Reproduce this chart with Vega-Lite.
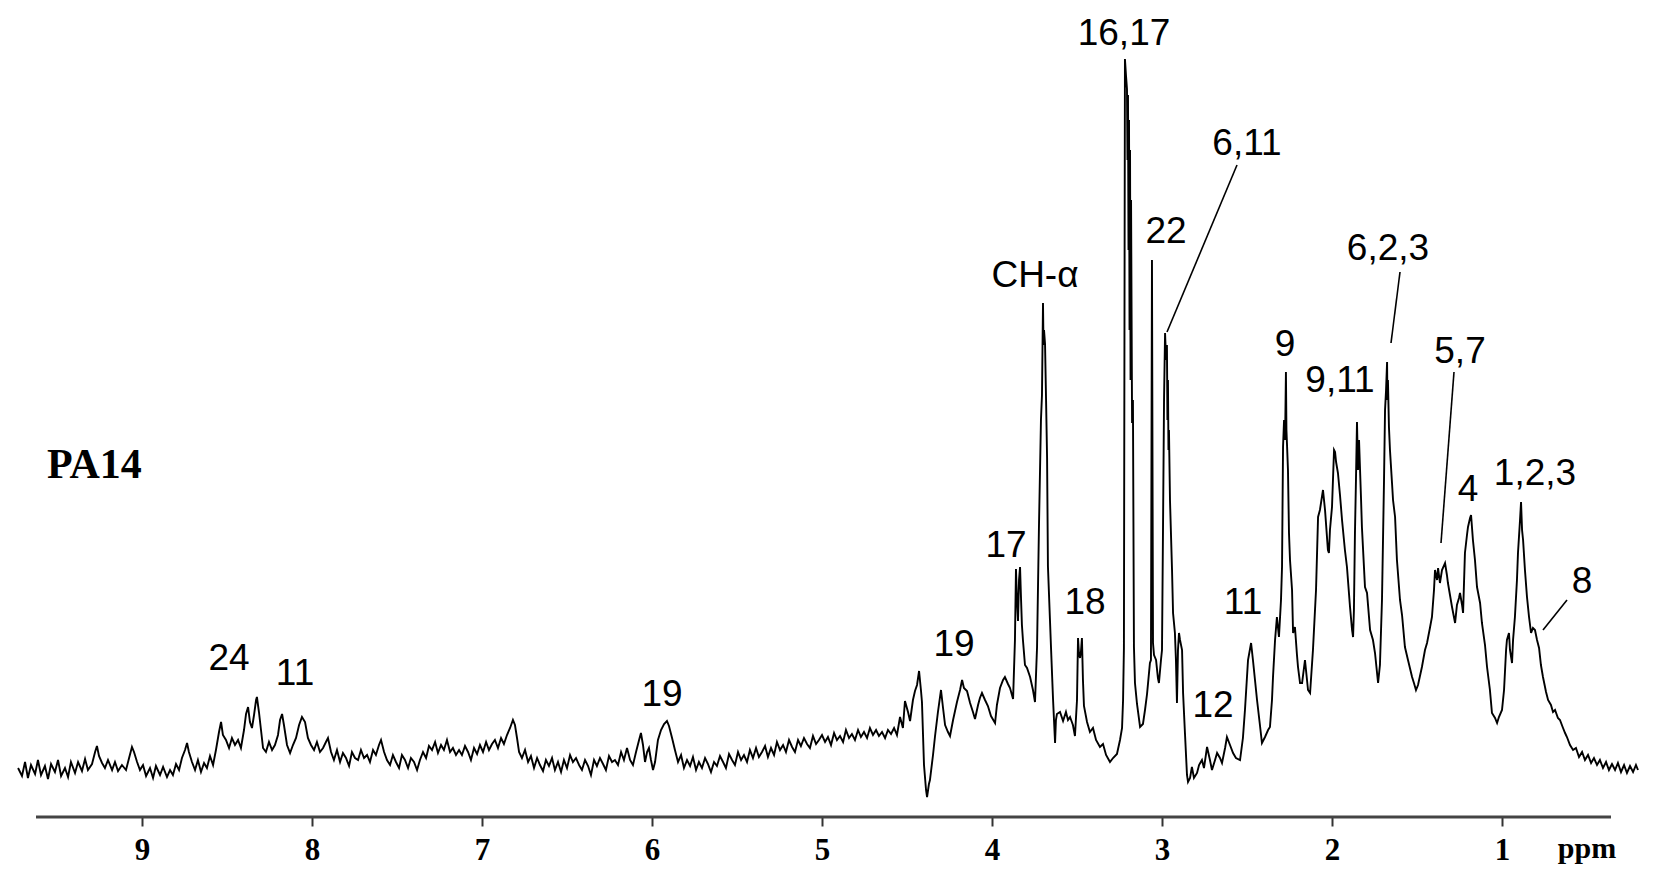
{
"$schema": "https://vega.github.io/schema/vega-lite/v6.json",
"width": 1634, "height": 817,
"autosize": {"type": "none"},
"padding": {"left": 10, "top": 0, "right": 10, "bottom": 67},
"background": "white",
"config": {"view": {"stroke": null}},
"datasets": {
"spectrum": [
{"ppm":9.729,"intensity":49},{"ppm":9.706,"intensity":41},{"ppm":9.688,"intensity":55},{"ppm":9.671,"intensity":39},{"ppm":9.653,"intensity":52},{"ppm":9.629,"intensity":43},{"ppm":9.612,"intensity":57},{"ppm":9.594,"intensity":42},{"ppm":9.571,"intensity":51},{"ppm":9.553,"intensity":38},{"ppm":9.535,"intensity":53},{"ppm":9.512,"intensity":45},{"ppm":9.494,"intensity":57},{"ppm":9.476,"intensity":41},{"ppm":9.453,"intensity":49},{"ppm":9.435,"intensity":40},{"ppm":9.418,"intensity":55},{"ppm":9.394,"intensity":44},{"ppm":9.376,"intensity":55},{"ppm":9.353,"intensity":46},{"ppm":9.335,"intensity":58},{"ppm":9.318,"intensity":47},{"ppm":9.294,"intensity":53},{"ppm":9.276,"intensity":65},{"ppm":9.265,"intensity":71},{"ppm":9.253,"intensity":61},{"ppm":9.235,"intensity":54},{"ppm":9.218,"intensity":49},{"ppm":9.2,"intensity":57},{"ppm":9.176,"intensity":47},{"ppm":9.159,"intensity":55},{"ppm":9.141,"intensity":46},{"ppm":9.118,"intensity":52},{"ppm":9.094,"intensity":47},{"ppm":9.076,"intensity":59},{"ppm":9.059,"intensity":70},{"ppm":9.047,"intensity":65},{"ppm":9.029,"intensity":55},{"ppm":9.012,"intensity":47},{"ppm":8.994,"intensity":52},{"ppm":8.976,"intensity":41},{"ppm":8.953,"intensity":49},{"ppm":8.935,"intensity":39},{"ppm":8.918,"intensity":51},{"ppm":8.894,"intensity":42},{"ppm":8.876,"intensity":50},{"ppm":8.853,"intensity":40},{"ppm":8.835,"intensity":47},{"ppm":8.818,"intensity":42},{"ppm":8.8,"intensity":53},{"ppm":8.782,"intensity":47},{"ppm":8.765,"intensity":59},{"ppm":8.747,"intensity":67},{"ppm":8.735,"intensity":74},{"ppm":8.724,"intensity":65},{"ppm":8.706,"intensity":55},{"ppm":8.688,"intensity":47},{"ppm":8.671,"intensity":57},{"ppm":8.653,"intensity":45},{"ppm":8.635,"intensity":54},{"ppm":8.618,"intensity":49},{"ppm":8.6,"intensity":61},{"ppm":8.582,"intensity":52},{"ppm":8.565,"intensity":67},{"ppm":8.547,"intensity":85},{"ppm":8.535,"intensity":95},{"ppm":8.524,"intensity":82},{"ppm":8.506,"intensity":77},{"ppm":8.488,"intensity":69},{"ppm":8.471,"intensity":79},{"ppm":8.453,"intensity":72},{"ppm":8.435,"intensity":77},{"ppm":8.418,"intensity":69},{"ppm":8.4,"intensity":87},{"ppm":8.388,"intensity":103},{"ppm":8.376,"intensity":110},{"ppm":8.365,"intensity":95},{"ppm":8.353,"intensity":89},{"ppm":8.341,"intensity":102},{"ppm":8.329,"intensity":117},{"ppm":8.324,"intensity":120},{"ppm":8.312,"intensity":105},{"ppm":8.3,"intensity":87},{"ppm":8.288,"intensity":69},{"ppm":8.271,"intensity":65},{"ppm":8.253,"intensity":75},{"ppm":8.235,"intensity":67},{"ppm":8.218,"intensity":72},{"ppm":8.2,"intensity":82},{"ppm":8.188,"intensity":97},{"ppm":8.176,"intensity":103},{"ppm":8.165,"intensity":92},{"ppm":8.147,"intensity":72},{"ppm":8.129,"intensity":64},{"ppm":8.112,"intensity":72},{"ppm":8.094,"intensity":79},{"ppm":8.076,"intensity":92},{"ppm":8.059,"intensity":100},{"ppm":8.041,"intensity":95},{"ppm":8.024,"intensity":79},{"ppm":8.006,"intensity":72},{"ppm":7.988,"intensity":67},{"ppm":7.971,"intensity":75},{"ppm":7.953,"intensity":65},{"ppm":7.935,"intensity":69},{"ppm":7.918,"intensity":75},{"ppm":7.906,"intensity":79},{"ppm":7.888,"intensity":65},{"ppm":7.871,"intensity":57},{"ppm":7.853,"intensity":67},{"ppm":7.835,"intensity":55},{"ppm":7.818,"intensity":64},{"ppm":7.8,"intensity":59},{"ppm":7.782,"intensity":51},{"ppm":7.765,"intensity":65},{"ppm":7.747,"intensity":59},{"ppm":7.729,"intensity":57},{"ppm":7.712,"intensity":67},{"ppm":7.694,"intensity":59},{"ppm":7.676,"intensity":62},{"ppm":7.659,"intensity":55},{"ppm":7.641,"intensity":67},{"ppm":7.624,"intensity":62},{"ppm":7.606,"intensity":72},{"ppm":7.594,"intensity":77},{"ppm":7.576,"intensity":65},{"ppm":7.559,"intensity":57},{"ppm":7.541,"intensity":52},{"ppm":7.524,"intensity":62},{"ppm":7.506,"intensity":55},{"ppm":7.488,"intensity":49},{"ppm":7.471,"intensity":62},{"ppm":7.453,"intensity":57},{"ppm":7.435,"intensity":49},{"ppm":7.418,"intensity":59},{"ppm":7.4,"intensity":55},{"ppm":7.382,"intensity":47},{"ppm":7.365,"intensity":57},{"ppm":7.347,"intensity":65},{"ppm":7.329,"intensity":59},{"ppm":7.312,"intensity":71},{"ppm":7.294,"intensity":67},{"ppm":7.276,"intensity":75},{"ppm":7.259,"intensity":64},{"ppm":7.241,"intensity":72},{"ppm":7.224,"intensity":67},{"ppm":7.206,"intensity":77},{"ppm":7.188,"intensity":65},{"ppm":7.171,"intensity":69},{"ppm":7.153,"intensity":62},{"ppm":7.135,"intensity":67},
{"ppm":7.118,"intensity":62},{"ppm":7.1,"intensity":71},{"ppm":7.082,"intensity":65},{"ppm":7.065,"intensity":57},{"ppm":7.047,"intensity":69},{"ppm":7.029,"intensity":63},{"ppm":7.012,"intensity":72},{"ppm":6.994,"intensity":65},{"ppm":6.976,"intensity":75},{"ppm":6.959,"intensity":67},{"ppm":6.941,"intensity":73},{"ppm":6.924,"intensity":77},{"ppm":6.906,"intensity":69},{"ppm":6.888,"intensity":79},{"ppm":6.871,"intensity":73},{"ppm":6.853,"intensity":82},{"ppm":6.835,"intensity":89},{"ppm":6.818,"intensity":97},{"ppm":6.806,"intensity":92},{"ppm":6.794,"intensity":79},{"ppm":6.782,"intensity":65},{"ppm":6.765,"intensity":59},{"ppm":6.747,"intensity":67},{"ppm":6.729,"intensity":55},{"ppm":6.712,"intensity":61},{"ppm":6.694,"intensity":49},{"ppm":6.676,"intensity":59},{"ppm":6.659,"intensity":52},{"ppm":6.641,"intensity":46},{"ppm":6.624,"intensity":57},{"ppm":6.606,"intensity":51},{"ppm":6.588,"intensity":59},{"ppm":6.571,"intensity":47},{"ppm":6.553,"intensity":55},{"ppm":6.535,"intensity":45},{"ppm":6.518,"intensity":57},{"ppm":6.5,"intensity":49},{"ppm":6.482,"intensity":62},{"ppm":6.465,"intensity":55},{"ppm":6.447,"intensity":59},{"ppm":6.429,"intensity":52},{"ppm":6.412,"intensity":47},{"ppm":6.394,"intensity":57},{"ppm":6.376,"intensity":51},{"ppm":6.359,"intensity":42},{"ppm":6.341,"intensity":57},{"ppm":6.324,"intensity":51},{"ppm":6.306,"intensity":59},{"ppm":6.288,"intensity":53},{"ppm":6.271,"intensity":47},{"ppm":6.253,"intensity":61},{"ppm":6.235,"intensity":55},{"ppm":6.218,"intensity":57},{"ppm":6.2,"intensity":52},{"ppm":6.182,"intensity":65},{"ppm":6.165,"intensity":57},{"ppm":6.147,"intensity":69},{"ppm":6.129,"intensity":57},{"ppm":6.112,"intensity":52},{"ppm":6.094,"intensity":65},{"ppm":6.076,"intensity":77},{"ppm":6.065,"intensity":84},{"ppm":6.053,"intensity":72},{"ppm":6.041,"intensity":55},{"ppm":6.029,"intensity":65},{"ppm":6.018,"intensity":69},{"ppm":6.006,"intensity":57},{"ppm":5.994,"intensity":47},{"ppm":5.982,"intensity":55},{"ppm":5.965,"intensity":77},{"ppm":5.947,"intensity":87},{"ppm":5.929,"intensity":93},{"ppm":5.912,"intensity":96},{"ppm":5.9,"intensity":91},{"ppm":5.882,"intensity":79},{"ppm":5.865,"intensity":67},{"ppm":5.847,"intensity":55},{"ppm":5.829,"intensity":62},{"ppm":5.812,"intensity":49},{"ppm":5.794,"intensity":57},{"ppm":5.776,"intensity":51},{"ppm":5.759,"intensity":60},{"ppm":5.741,"intensity":47},{"ppm":5.724,"intensity":55},{"ppm":5.706,"intensity":49},{"ppm":5.688,"intensity":59},{"ppm":5.671,"intensity":53},{"ppm":5.653,"intensity":45},{"ppm":5.635,"intensity":55},{"ppm":5.618,"intensity":51},{"ppm":5.6,"intensity":61},{"ppm":5.582,"intensity":55},{"ppm":5.565,"intensity":49},{"ppm":5.547,"intensity":63},{"ppm":5.529,"intensity":57},{"ppm":5.512,"intensity":52},{"ppm":5.494,"intensity":65},{"ppm":5.476,"intensity":57},{"ppm":5.459,"intensity":62},{"ppm":5.441,"intensity":55},{"ppm":5.424,"intensity":67},{"ppm":5.406,"intensity":59},{"ppm":5.388,"intensity":69},{"ppm":5.371,"intensity":60},{"ppm":5.353,"intensity":65},{"ppm":5.335,"intensity":71},{"ppm":5.318,"intensity":60},{"ppm":5.3,"intensity":69},{"ppm":5.282,"intensity":62},{"ppm":5.265,"intensity":75},{"ppm":5.247,"intensity":67},{"ppm":5.229,"intensity":72},{"ppm":5.212,"intensity":65},{"ppm":5.194,"intensity":77},{"ppm":5.176,"intensity":70},{"ppm":5.159,"intensity":65},{"ppm":5.141,"intensity":77},{"ppm":5.124,"intensity":71},{"ppm":5.106,"intensity":79},{"ppm":5.088,"intensity":73},{"ppm":5.071,"intensity":69},{"ppm":5.053,"intensity":81},{"ppm":5.035,"intensity":73},{"ppm":5.018,"intensity":77},{"ppm":5.0,"intensity":82},{"ppm":4.982,"intensity":75},{"ppm":4.965,"intensity":80},{"ppm":4.947,"intensity":72},{"ppm":4.929,"intensity":84},{"ppm":4.912,"intensity":77},{"ppm":4.894,"intensity":81},{"ppm":4.876,"intensity":75},{"ppm":4.859,"intensity":87},{"ppm":4.841,"intensity":79},{"ppm":4.824,"intensity":83},{"ppm":4.806,"intensity":77},{"ppm":4.788,"intensity":87},{"ppm":4.771,"intensity":80},{"ppm":4.753,"intensity":85},{"ppm":4.735,"intensity":79},{"ppm":4.718,"intensity":89},{"ppm":4.7,"intensity":82},{"ppm":4.682,"intensity":87},{"ppm":4.665,"intensity":81},{"ppm":4.647,"intensity":85},{"ppm":4.629,"intensity":79},{"ppm":4.612,"intensity":87},{"ppm":4.594,"intensity":83},{"ppm":4.576,"intensity":89},{"ppm":4.559,"intensity":82},
{"ppm":4.541,"intensity":100},{"ppm":4.524,"intensity":89},{"ppm":4.512,"intensity":116},{"ppm":4.494,"intensity":105},{"ppm":4.482,"intensity":96},{"ppm":4.465,"intensity":117},{"ppm":4.453,"intensity":126},{"ppm":4.441,"intensity":132},{"ppm":4.429,"intensity":146},{"ppm":4.418,"intensity":127},{"ppm":4.412,"intensity":115},{"ppm":4.4,"intensity":52},{"ppm":4.388,"intensity":27},{"ppm":4.382,"intensity":20},{"ppm":4.371,"intensity":33},{"ppm":4.365,"intensity":37},{"ppm":4.347,"intensity":62},{"ppm":4.335,"intensity":81},{"ppm":4.318,"intensity":105},{"ppm":4.3,"intensity":127},{"ppm":4.288,"intensity":109},{"ppm":4.276,"intensity":92},{"ppm":4.259,"intensity":85},{"ppm":4.247,"intensity":81},{"ppm":4.229,"intensity":97},{"ppm":4.206,"intensity":115},{"ppm":4.188,"intensity":127},{"ppm":4.176,"intensity":137},{"ppm":4.165,"intensity":129},{"ppm":4.147,"intensity":126},{"ppm":4.129,"intensity":114},{"ppm":4.112,"intensity":105},{"ppm":4.1,"intensity":98},{"ppm":4.082,"intensity":112},{"ppm":4.071,"intensity":119},{"ppm":4.059,"intensity":124},{"ppm":4.041,"intensity":117},{"ppm":4.024,"intensity":111},{"ppm":4.006,"intensity":101},{"ppm":3.982,"intensity":94},{"ppm":3.971,"intensity":112},{"ppm":3.953,"intensity":129},{"ppm":3.935,"intensity":137},{"ppm":3.924,"intensity":140},{"ppm":3.906,"intensity":133},{"ppm":3.894,"intensity":129},{"ppm":3.876,"intensity":118},{"ppm":3.865,"intensity":177},{"ppm":3.859,"intensity":248},{"ppm":3.853,"intensity":217},{"ppm":3.847,"intensity":196},{"ppm":3.841,"intensity":237},{"ppm":3.835,"intensity":250},{"ppm":3.829,"intensity":217},{"ppm":3.824,"intensity":192},{"ppm":3.818,"intensity":177},{"ppm":3.806,"intensity":152},{"ppm":3.794,"intensity":149},{"ppm":3.776,"intensity":140},{"ppm":3.759,"intensity":127},{"ppm":3.747,"intensity":115},{"ppm":3.735,"intensity":170},{"ppm":3.724,"intensity":288},{"ppm":3.712,"intensity":397},{"ppm":3.706,"intensity":422},{"ppm":3.7,"intensity":514},{"ppm":3.697,"intensity":472},{"ppm":3.694,"intensity":487},{"ppm":3.688,"intensity":473},{"ppm":3.682,"intensity":417},{"ppm":3.676,"intensity":359},{"ppm":3.671,"intensity":251},{"ppm":3.659,"intensity":197},{"ppm":3.653,"intensity":170},{"ppm":3.641,"intensity":118},{"ppm":3.629,"intensity":74},{"ppm":3.624,"intensity":97},{"ppm":3.618,"intensity":103},{"ppm":3.6,"intensity":105},{"ppm":3.582,"intensity":96},{"ppm":3.565,"intensity":105},{"ppm":3.553,"intensity":97},{"ppm":3.541,"intensity":100},{"ppm":3.524,"intensity":92},{"ppm":3.512,"intensity":81},{"ppm":3.5,"intensity":117},{"ppm":3.494,"intensity":179},{"ppm":3.488,"intensity":162},{"ppm":3.482,"intensity":159},{"ppm":3.476,"intensity":167},{"ppm":3.471,"intensity":179},{"ppm":3.465,"intensity":137},{"ppm":3.459,"intensity":111},{"ppm":3.441,"intensity":95},{"ppm":3.424,"intensity":85},{"ppm":3.406,"intensity":89},{"ppm":3.388,"intensity":77},{"ppm":3.365,"intensity":70},{"ppm":3.347,"intensity":73},{"ppm":3.329,"intensity":62},{"ppm":3.306,"intensity":55},{"ppm":3.288,"intensity":59},{"ppm":3.265,"intensity":63},{"ppm":3.247,"intensity":77},{"ppm":3.235,"intensity":89},{"ppm":3.229,"intensity":117},{"ppm":3.224,"intensity":169},{"ppm":3.218,"intensity":758},{"ppm":3.212,"intensity":742},{"ppm":3.206,"intensity":728},{"ppm":3.203,"intensity":657},{"ppm":3.2,"intensity":722},{"ppm":3.197,"intensity":567},{"ppm":3.194,"intensity":697},{"ppm":3.191,"intensity":487},{"ppm":3.188,"intensity":667},{"ppm":3.185,"intensity":437},{"ppm":3.182,"intensity":617},{"ppm":3.176,"intensity":394},{"ppm":3.171,"intensity":417},{"ppm":3.165,"intensity":170},{"ppm":3.159,"intensity":134},{"ppm":3.147,"intensity":113},{"ppm":3.129,"intensity":90},{"ppm":3.112,"intensity":93},{"ppm":3.1,"intensity":107},{"ppm":3.088,"intensity":123},{"ppm":3.071,"intensity":154},{"ppm":3.065,"intensity":157},{"ppm":3.059,"intensity":557},{"ppm":3.053,"intensity":174},{"ppm":3.047,"intensity":162},{"ppm":3.035,"intensity":157},{"ppm":3.024,"intensity":139},{"ppm":3.018,"intensity":134},{"ppm":3.006,"intensity":157},{"ppm":3.0,"intensity":167},{"ppm":2.994,"intensity":290},{"ppm":2.988,"intensity":417},{"ppm":2.982,"intensity":484},{"ppm":2.976,"intensity":457},{"ppm":2.971,"intensity":472},{"ppm":2.968,"intensity":397},{"ppm":2.965,"intensity":437},{"ppm":2.962,"intensity":367},{"ppm":2.959,"intensity":387},{"ppm":2.953,"intensity":317},{"ppm":2.941,"intensity":247},{"ppm":2.935,"intensity":204},{"ppm":2.924,"intensity":184},{"ppm":2.918,"intensity":157},{"ppm":2.912,"intensity":114},{"ppm":2.906,"intensity":167},{"ppm":2.9,"intensity":184},{"ppm":2.894,"intensity":177},{"ppm":2.882,"intensity":167},{"ppm":2.876,"intensity":124},{"ppm":2.865,"intensity":84},{"ppm":2.853,"intensity":42},{"ppm":2.847,"intensity":35},{"ppm":2.835,"intensity":39},{"ppm":2.824,"intensity":50},{"ppm":2.812,"intensity":39},{"ppm":2.794,"intensity":44},{"ppm":2.782,"intensity":52},{"ppm":2.765,"intensity":57},{"ppm":2.753,"intensity":49},{"ppm":2.735,"intensity":70},{"ppm":2.718,"intensity":57},{"ppm":2.706,"intensity":47},{"ppm":2.688,"intensity":57},{"ppm":2.676,"intensity":64},{"ppm":2.659,"intensity":59},{"ppm":2.647,"intensity":54},{"ppm":2.629,"intensity":69},{"ppm":2.618,"intensity":80},{"ppm":2.6,"intensity":72},{"ppm":2.582,"intensity":64},{"ppm":2.565,"intensity":59},{"ppm":2.541,"intensity":57},{"ppm":2.524,"intensity":79},{"ppm":2.512,"intensity":107},{"ppm":2.494,"intensity":157},{"ppm":2.476,"intensity":174},{"ppm":2.465,"intensity":157},{"ppm":2.453,"intensity":137},{"ppm":2.441,"intensity":117},{"ppm":2.424,"intensity":92},{"ppm":2.412,"intensity":74},{"ppm":2.394,"intensity":80},{"ppm":2.376,"intensity":87},{"ppm":2.365,"intensity":90},{"ppm":2.353,"intensity":117},{"ppm":2.347,"intensity":140},{"ppm":2.335,"intensity":177},{"ppm":2.324,"intensity":200},{"ppm":2.312,"intensity":180},{"ppm":2.3,"intensity":217},{"ppm":2.294,"intensity":250},{"ppm":2.288,"intensity":370},{"ppm":2.282,"intensity":397},{"ppm":2.276,"intensity":377},{"ppm":2.271,"intensity":445},{"ppm":2.268,"intensity":387},{"ppm":2.265,"intensity":374},{"ppm":2.259,"intensity":347},{"ppm":2.253,"intensity":284},{"ppm":2.247,"intensity":257},{"ppm":2.235,"intensity":227},{"ppm":2.229,"intensity":184},{"ppm":2.218,"intensity":190},{"ppm":2.206,"intensity":162},{"ppm":2.2,"intensity":150},{"ppm":2.188,"intensity":134},{"ppm":2.176,"intensity":134},{"ppm":2.159,"intensity":157},{"ppm":2.141,"intensity":127},{"ppm":2.129,"intensity":124},{"ppm":2.112,"intensity":167},{"ppm":2.094,"intensity":227},{"ppm":2.082,"intensity":300},{"ppm":2.071,"intensity":307},{"ppm":2.053,"intensity":327},{"ppm":2.041,"intensity":307},{"ppm":2.024,"intensity":267},{"ppm":2.018,"intensity":264},{"ppm":2.012,"intensity":287},{"ppm":2.0,"intensity":310},{"ppm":1.988,"intensity":367},{"ppm":1.982,"intensity":365},{"ppm":1.976,"intensity":355},{"ppm":1.965,"intensity":344},{"ppm":1.953,"intensity":322},{"ppm":1.941,"intensity":297},{"ppm":1.924,"intensity":267},{"ppm":1.912,"intensity":250},{"ppm":1.894,"intensity":210},{"ppm":1.882,"intensity":187},{"ppm":1.876,"intensity":180},{"ppm":1.871,"intensity":207},{"ppm":1.865,"intensity":284},{"ppm":1.859,"intensity":337},{"ppm":1.853,"intensity":395},{"ppm":1.847,"intensity":347},{"ppm":1.841,"intensity":377},{"ppm":1.835,"intensity":347},{"ppm":1.829,"intensity":317},{"ppm":1.824,"intensity":290},{"ppm":1.806,"intensity":230},{"ppm":1.794,"intensity":224},{"ppm":1.776,"intensity":187},{"ppm":1.759,"intensity":177},{"ppm":1.747,"intensity":164},{"ppm":1.729,"intensity":134},{"ppm":1.718,"intensity":152},{"ppm":1.706,"intensity":217},{"ppm":1.694,"intensity":337},{"ppm":1.688,"intensity":407},{"ppm":1.682,"intensity":427},{"ppm":1.676,"intensity":455},{"ppm":1.674,"intensity":417},{"ppm":1.671,"intensity":437},{"ppm":1.665,"intensity":390},{"ppm":1.659,"intensity":367},{"ppm":1.647,"intensity":334},{"ppm":1.641,"intensity":317},{"ppm":1.629,"intensity":300},{"ppm":1.618,"intensity":257},{"ppm":1.6,"intensity":217},{"ppm":1.588,"intensity":202},{"ppm":1.571,"intensity":170},{"ppm":1.553,"intensity":157},{"ppm":1.529,"intensity":140},{"ppm":1.518,"intensity":134},{"ppm":1.506,"intensity":127},{"ppm":1.494,"intensity":132},{"ppm":1.471,"intensity":150},{"ppm":1.453,"intensity":167},{"ppm":1.441,"intensity":174},{"ppm":1.424,"intensity":189},{"ppm":1.412,"intensity":200},{"ppm":1.4,"intensity":227},{"ppm":1.394,"intensity":247},{"ppm":1.382,"intensity":237},{"ppm":1.376,"intensity":249},{"ppm":1.365,"intensity":234},{"ppm":1.353,"intensity":247},{"ppm":1.335,"intensity":254},{"ppm":1.324,"intensity":242},{"ppm":1.318,"intensity":234},{"ppm":1.306,"intensity":222},{"ppm":1.294,"intensity":210},{"ppm":1.276,"intensity":194},{"ppm":1.265,"intensity":212},{"ppm":1.253,"intensity":219},{"ppm":1.247,"intensity":224},{"ppm":1.235,"intensity":212},{"ppm":1.229,"intensity":204},{"ppm":1.218,"intensity":264},{"ppm":1.206,"intensity":282},{"ppm":1.2,"intensity":290},{"ppm":1.188,"intensity":299},{"ppm":1.182,"intensity":302},{"ppm":1.171,"intensity":277},{"ppm":1.159,"intensity":257},{"ppm":1.147,"intensity":230},{"ppm":1.129,"intensity":214},{"ppm":1.118,"intensity":194},{"ppm":1.1,"intensity":172},{"ppm":1.088,"intensity":150},{"ppm":1.071,"intensity":127},{"ppm":1.059,"intensity":104},{"ppm":1.041,"intensity":99},{"ppm":1.029,"intensity":94},{"ppm":1.018,"intensity":100},{"ppm":1.0,"intensity":107},{"ppm":0.988,"intensity":127},{"ppm":0.976,"intensity":167},{"ppm":0.971,"intensity":177},{"ppm":0.959,"intensity":184},{"ppm":0.953,"intensity":167},{"ppm":0.941,"intensity":154},{"ppm":0.935,"intensity":177},{"ppm":0.924,"intensity":200},{"ppm":0.912,"intensity":237},{"ppm":0.906,"intensity":264},{"ppm":0.894,"intensity":297},{"ppm":0.888,"intensity":315},{"ppm":0.882,"intensity":287},{"ppm":0.876,"intensity":277},{"ppm":0.865,"intensity":247},{"ppm":0.853,"intensity":220},{"ppm":0.841,"intensity":200},{"ppm":0.829,"intensity":184},{"ppm":0.818,"intensity":189},{"ppm":0.806,"intensity":187},{"ppm":0.794,"intensity":177},{"ppm":0.782,"intensity":169},{"ppm":0.771,"intensity":152},{"ppm":0.759,"intensity":140},{"ppm":0.741,"intensity":125},{"ppm":0.729,"intensity":117},{"ppm":0.712,"intensity":112},{"ppm":0.7,"intensity":105},{"ppm":0.688,"intensity":107},{"ppm":0.671,"intensity":99},{"ppm":0.659,"intensity":97},{"ppm":0.641,"intensity":89},{"ppm":0.629,"intensity":84},{"ppm":0.618,"intensity":80},{"ppm":0.6,"intensity":72},{"ppm":0.582,"intensity":67},{"ppm":0.565,"intensity":69},{"ppm":0.547,"intensity":60},{"ppm":0.529,"intensity":65},{"ppm":0.512,"intensity":57},{"ppm":0.494,"intensity":62},{"ppm":0.476,"intensity":54},{"ppm":0.459,"intensity":59},{"ppm":0.441,"intensity":52},{"ppm":0.424,"intensity":57},{"ppm":0.406,"intensity":49},{"ppm":0.388,"intensity":55},{"ppm":0.371,"intensity":47},{"ppm":0.353,"intensity":53},{"ppm":0.335,"intensity":47},{"ppm":0.318,"intensity":54},{"ppm":0.3,"intensity":45},{"ppm":0.282,"intensity":52},{"ppm":0.265,"intensity":44},{"ppm":0.247,"intensity":51},{"ppm":0.229,"intensity":45},{"ppm":0.212,"intensity":52},{"ppm":0.2,"intensity":47}
],
"labels": [
{"ppm":3.2235,"intensity":772,"text":"16,17"},
{"ppm":2.5,"intensity":662,"text":"6,11"},
{"ppm":2.9765,"intensity":574,"text":"22"},
{"ppm":3.7471,"intensity":530,"text":"CH-α"},
{"ppm":2.2765,"intensity":461,"text":"9"},
{"ppm":1.9529,"intensity":425,"text":"9,11"},
{"ppm":1.6706,"intensity":557,"text":"6,2,3"},
{"ppm":1.2471,"intensity":454,"text":"5,7"},
{"ppm":1.2,"intensity":316,"text":"4"},
{"ppm":0.8059,"intensity":332,"text":"1,2,3"},
{"ppm":0.5294,"intensity":224,"text":"8"},
{"ppm":3.9176,"intensity":260,"text":"17"},
{"ppm":3.4529,"intensity":203,"text":"18"},
{"ppm":4.2235,"intensity":161,"text":"19"},
{"ppm":2.5235,"intensity":203,"text":"11"},
{"ppm":2.7,"intensity":100,"text":"12"},
{"ppm":8.4882,"intensity":147,"text":"24"},
{"ppm":8.1,"intensity":132,"text":"11"},
{"ppm":5.9412,"intensity":111,"text":"19"}
],
"leaders": [
{"ppm":2.5588,"ppm2":2.9706,"intensity":652,"intensity2":485},
{"ppm":1.6,"ppm2":1.6529,"intensity":545,"intensity2":474},
{"ppm":1.2824,"ppm2":1.3588,"intensity":445,"intensity2":274},
{"ppm":0.6176,"ppm2":0.7588,"intensity":217,"intensity2":187}
],
"axisline": [{"ppm":9.6235,"ppm2":0.3588,"intensity":0}],
"sample": [{"ppm":9.5588,"intensity":339,"text":"PA14"}],
"unit": [{"ppm":0.5,"intensity":-41,"text":"ppm"}]
},
"layer": [
{
"data": {"name": "spectrum"},
"mark": {"type": "line", "color": "black", "strokeWidth": 1.9},
"encoding": {
"x": {"field": "ppm", "type": "quantitative",
"scale": {"domain": [0.16471, 9.77647], "reverse": true, "nice": false, "zero": false},
"axis": {"values": [1,2,3,4,5,6,7,8,9], "format": "d", "domain": false, "grid": false, "tickSize": 9, "tickWidth": 2, "tickColor": "#333", "labelFont": "Liberation Serif", "labelFontWeight": "bold", "labelFontSize": 31, "labelColor": "black", "labelPadding": 9, "title": null}},
"y": {"field": "intensity", "type": "quantitative", "scale": {"domain": [0, 817], "nice": false, "zero": false}, "axis": null}
}
},
{
"data": {"name": "axisline"},
"mark": {"type": "rule", "color": "#444", "strokeWidth": 3},
"encoding": {
"x": {"field": "ppm", "type": "quantitative"},
"x2": {"field": "ppm2"},
"y": {"field": "intensity", "type": "quantitative"}
}
},
{
"data": {"name": "leaders"},
"mark": {"type": "rule", "color": "black", "strokeWidth": 1.6},
"encoding": {
"x": {"field": "ppm", "type": "quantitative"},
"x2": {"field": "ppm2"},
"y": {"field": "intensity", "type": "quantitative"},
"y2": {"field": "intensity2"}
}
},
{
"data": {"name": "labels"},
"mark": {"type": "text", "font": "Liberation Sans", "fontSize": 37, "color": "black", "align": "center", "baseline": "alphabetic"},
"encoding": {
"x": {"field": "ppm", "type": "quantitative"},
"y": {"field": "intensity", "type": "quantitative"},
"text": {"field": "text"}
}
},
{
"data": {"name": "sample"},
"mark": {"type": "text", "font": "Liberation Serif", "fontWeight": "bold", "fontSize": 42, "color": "black", "align": "left", "baseline": "alphabetic"},
"encoding": {
"x": {"field": "ppm", "type": "quantitative"},
"y": {"field": "intensity", "type": "quantitative"},
"text": {"field": "text"}
}
},
{
"data": {"name": "unit"},
"mark": {"type": "text", "font": "Liberation Serif", "fontWeight": "bold", "fontSize": 30, "color": "black", "align": "center", "baseline": "alphabetic"},
"encoding": {
"x": {"field": "ppm", "type": "quantitative"},
"y": {"field": "intensity", "type": "quantitative"},
"text": {"field": "text"}
}
}
]
}
